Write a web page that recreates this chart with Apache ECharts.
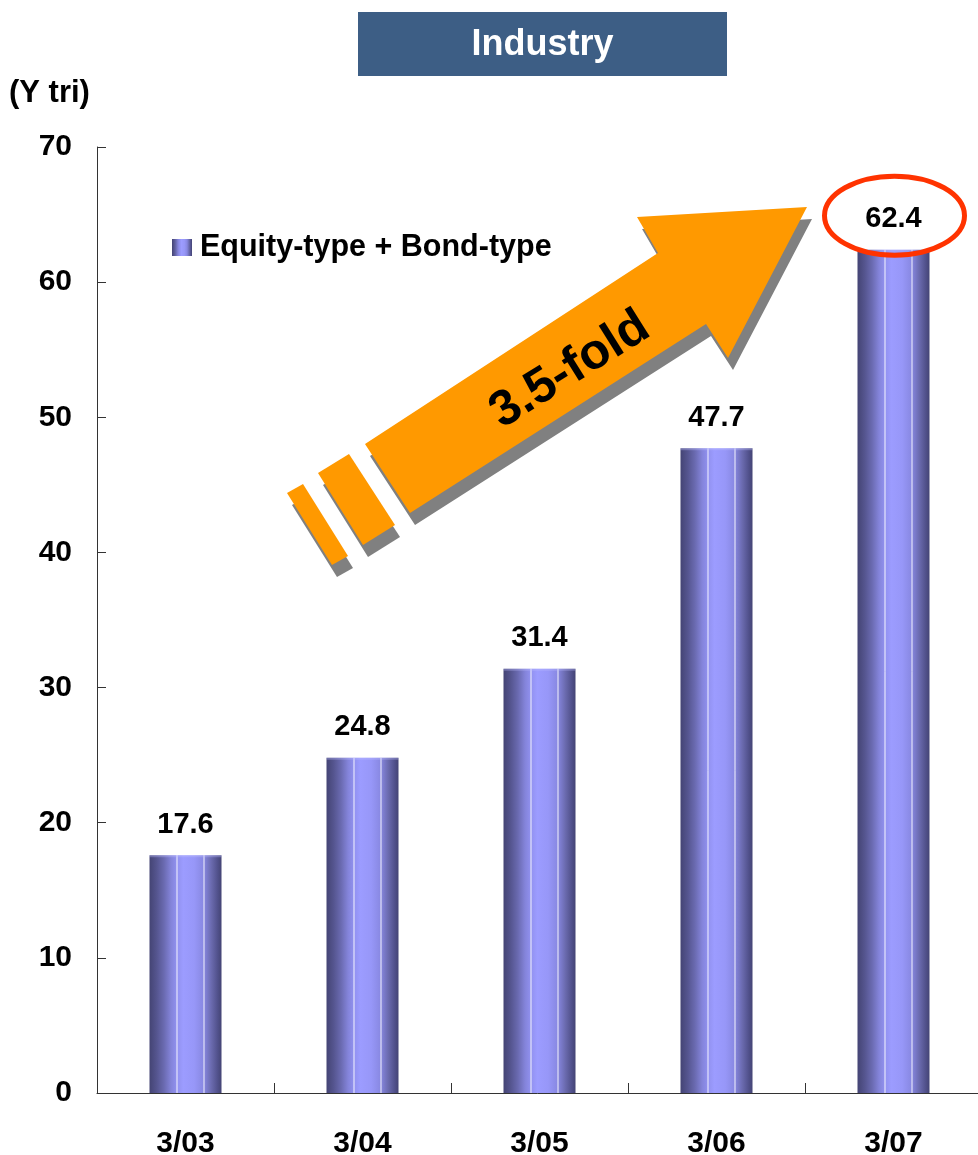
<!DOCTYPE html>
<html>
<head>
<meta charset="utf-8">
<script src="https://cdn.jsdelivr.net/npm/echarts@6/dist/echarts.min.js"></script>
<style>
  html, body { margin: 0; padding: 0; background: #ffffff; }
  #chart { width: 978px; height: 1155px; }
</style>
</head>
<body>
<div id="chart"></div>
<script>
// Fiscal year-end points (March) and total assets, in trillions of yen
const categories = ['3/03', '3/04', '3/05', '3/06', '3/07'];
const totals = [17.6, 24.8, 31.4, 47.7, 62.4];
const seriesName = 'Equity-type + Bond-type';
const chartTitle = 'Industry';
const unitLabel = '(Y tri)';
const growthLabel = '3.5-fold';
const highlightCategory = '3/07';

const FONT = '"Liberation Sans", Arial, Helvetica, sans-serif';
const BAR_WIDTH = 72;

// Cylinder-like shading across each bar
const barFill = new echarts.graphic.LinearGradient(0, 0, 1, 0, [
  { offset: 0.00, color: '#444474' },
  { offset: 0.10, color: '#55558f' },
  { offset: 0.20, color: '#6a6ab0' },
  { offset: 0.30, color: '#8484da' },
  { offset: 0.375, color: '#9090ee' },
  { offset: 0.47, color: '#9c9cff' },
  { offset: 0.62, color: '#9797f8' },
  { offset: 0.75, color: '#8888e2' },
  { offset: 0.86, color: '#6a6aae' },
  { offset: 0.95, color: '#50508a' },
  { offset: 1.00, color: '#444474' }
]);

const chart = echarts.init(document.getElementById('chart'), null, { renderer: 'canvas' });

chart.setOption({
  animation: false,
  backgroundColor: '#ffffff',
  grid: { left: 97, top: 147, width: 885, height: 946, containLabel: false, outerBoundsMode: 'none' },
  legend: {
    data: [seriesName],
    left: 172,
    top: 232,
    padding: 0,
    icon: 'rect',
    itemWidth: 20,
    itemHeight: 17,
    textStyle: { fontFamily: FONT, fontSize: 30.5, fontWeight: 'bold', color: '#000000', padding: [0, 0, 0, 3] }
  },
  xAxis: {
    type: 'category',
    data: categories,
    boundaryGap: true,
    axisLine: { show: true, lineStyle: { color: '#333333', width: 1 } },
    axisTick: { show: true, inside: true, length: 10, alignWithLabel: false, lineStyle: { color: '#333333' } },
    axisLabel: { fontFamily: FONT, fontSize: 30, fontWeight: 'bold', color: '#000000', margin: 36 },
    splitLine: { show: false }
  },
  yAxis: {
    type: 'value',
    min: 0,
    max: 70,
    interval: 10,
    axisLine: { show: true, lineStyle: { color: '#333333', width: 1 } },
    axisTick: { show: true, inside: true, length: 9, lineStyle: { color: '#333333' } },
    axisLabel: { fontFamily: FONT, fontSize: 30, fontWeight: 'bold', color: '#000000', margin: 25 },
    splitLine: { show: false }
  },
  series: [
    {
      name: seriesName,
      type: 'bar',
      data: totals,
      barWidth: BAR_WIDTH,
      itemStyle: { color: barFill },
      label: {
        show: true,
        position: 'top',
        distance: 16,
        fontFamily: FONT,
        fontSize: 29,
        fontWeight: 'bold',
        color: '#000000',
        formatter: (p) => p.value.toFixed(1)
      },
      z: 2
    },
    {
      // thin highlight strokes running down each bar
      name: 'bar-highlights',
      type: 'custom',
      data: totals.map((v, i) => [i, v]),
      silent: true,
      z: 3,
      renderItem: (params, api) => {
        const top = api.coord([api.value(0), api.value(1)]);
        const base = api.coord([api.value(0), 0]);
        const left = top[0] - BAR_WIDTH / 2;
        const lineAt = (dx) => ({
          type: 'line',
          shape: { x1: left + dx + 0.5, y1: top[1], x2: left + dx + 0.5, y2: base[1] },
          style: { stroke: 'rgba(255,255,255,0.9)', lineWidth: 1 }
        });
        return {
          type: 'group',
          children: [
            lineAt(27),
            lineAt(54),
            {
              type: 'rect',
              shape: { x: left, y: top[1], width: BAR_WIDTH, height: 2 },
              style: { fill: 'rgba(190,190,255,0.35)' }
            }
          ]
        };
      }
    }
  ]
});

// Decorations: title banner, unit caption, growth arrow, highlight ring
const highlightIdx = categories.indexOf(highlightCategory);
const ringCenter = chart.convertToPixel({ xAxisIndex: 0, yAxisIndex: 0 }, [highlightIdx, totals[highlightIdx]]);

const SHADOW_DX = 5, SHADOW_DY = 12;
const arrowParts = [
  [[365, 444], [658, 253], [637, 217], [807, 207], [728, 358], [706, 324], [410, 513]],
  [[287, 493], [303, 484], [348, 556], [332, 565]],
  [[318, 473], [349, 454], [395, 525], [363, 545]]
];

const graphics = [
  {
    type: 'rect',
    shape: { x: 358, y: 12, width: 369, height: 64 },
    style: { fill: '#3d5e85' }
  },
  {
    type: 'text',
    x: 542.5, y: 45,
    style: {
      text: chartTitle, fill: '#ffffff', font: 'bold 36px ' + FONT,
      align: 'center', verticalAlign: 'middle'
    }
  },
  {
    type: 'text',
    x: 9, y: 93,
    style: {
      text: unitLabel, fill: '#000000', font: 'bold 31px ' + FONT,
      align: 'left', verticalAlign: 'middle'
    }
  }
];

arrowParts.forEach((pts) => {
  graphics.push({
    type: 'polygon',
    shape: { points: pts.map(([x, y]) => [x + SHADOW_DX, y + SHADOW_DY]) },
    style: { fill: '#808080' },
    z: 10
  });
});
arrowParts.forEach((pts) => {
  graphics.push({
    type: 'polygon',
    shape: { points: pts },
    style: { fill: '#ff9900' },
    z: 11
  });
});
graphics.push({
  type: 'text',
  x: 570, y: 370,
  rotation: 32 * Math.PI / 180,
  z: 12,
  style: {
    text: growthLabel, fill: '#000000', font: 'bold 50px ' + FONT,
    align: 'center', verticalAlign: 'middle'
  }
});
graphics.push({
  type: 'ellipse',
  shape: { cx: ringCenter[0] + 1, cy: ringCenter[1] - 34, rx: 70, ry: 39.5 },
  style: { fill: null, stroke: '#ff3300', lineWidth: 5 },
  z: 12
});

chart.setOption({ graphic: graphics });
</script>
</body>
</html>
